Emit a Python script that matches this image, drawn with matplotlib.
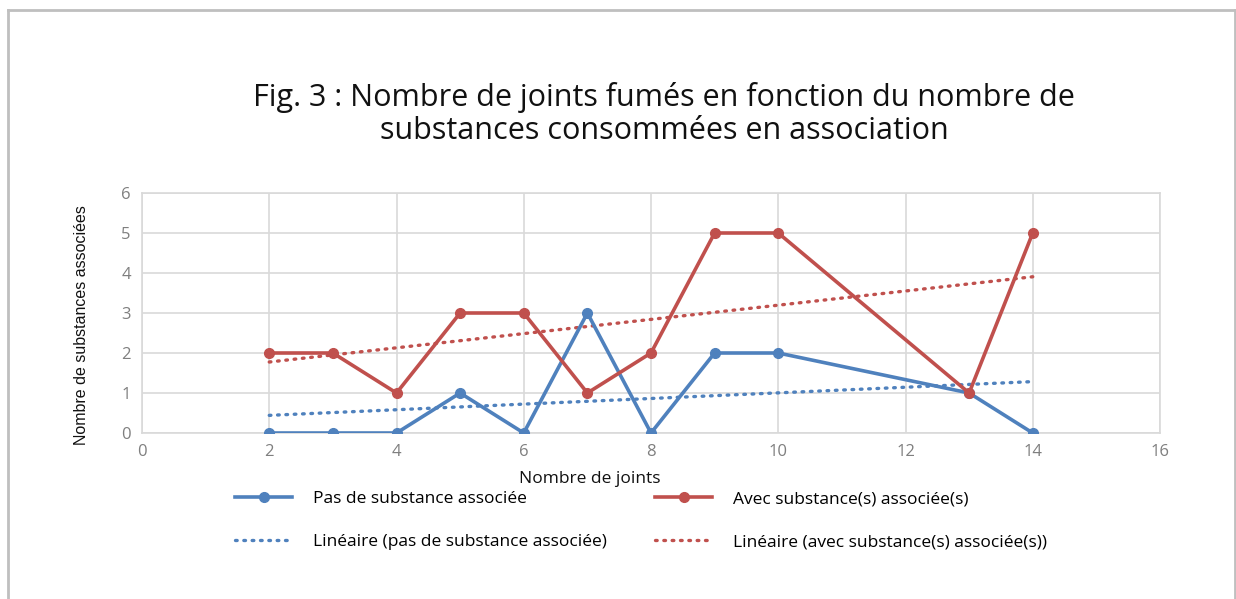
import matplotlib
matplotlib.use("Agg")
import matplotlib.pyplot as plt
import numpy as np
from matplotlib.lines import Line2D

x_joints = [2, 3, 4, 5, 6, 7, 8, 9, 10, 13, 14]
pas_substance = [0, 0, 0, 1, 0, 3, 0, 2, 2, 1, 0]
avec_substance = [2, 2, 1, 3, 3, 1, 2, 5, 5, 1, 5]
x_ticks = [0, 2, 4, 6, 8, 10, 12, 14, 16]
y_ticks = [0, 1, 2, 3, 4, 5, 6]

BLUE = "#4F81BD"
RED = "#C0504D"
W, H = 1236, 599
fig = plt.figure(figsize=(W / 100, H / 100), dpi=100)
ax = fig.add_axes([142 / W, 1 - 433 / H, (1160 - 142) / W, (433 - 193) / H])

font = ["Open Sans", "DejaVu Sans"]
DOT = (0, (0.5, 2.0))

xs = np.array(x_joints, dtype=float)
for ys, col in [(pas_substance, BLUE), (avec_substance, RED)]:
    ax.plot(xs, ys, color=col, lw=2.6, marker="o", ms=7, zorder=3, solid_joinstyle="round")
    k, b = np.polyfit(xs, ys, 1)
    ax.plot([xs.min(), xs.max()], [k * xs.min() + b, k * xs.max() + b], color=col,
            lw=2.4, linestyle=DOT, dash_capstyle="round", zorder=2)

ax.set_xlim(0, 16)
ax.set_ylim(0, 6)
ax.set_xticks(x_ticks)
ax.set_yticks(y_ticks)
ax.grid(True, color="#d9d9d9", lw=1.2)
ax.set_axisbelow(True)
for s in ax.spines.values():
    s.set_color("#d9d9d9")
    s.set_linewidth(1.2)
ax.tick_params(length=0, colors="#7f7f7f", labelsize=12, pad=8)
for lab in ax.get_xticklabels() + ax.get_yticklabels():
    lab.set_family(font)

fig.text(664 / W, 1 - 114 / H,
         "Fig. 3 : Nombre de joints fumés en fonction du nombre de\nsubstances consommées en association",
         ha="center", va="center", fontsize=22, family=font, linespacing=1.1, color="#111111")
fig.text(590 / W, 1 - 479 / H, "Nombre de joints", ha="center", va="center",
         fontsize=12.5, family=font, color="#111111")
fig.text(82 / W, 1 - 325 / H, "Nombre de substances associées", ha="center", va="center",
         rotation=90, fontsize=11.5, family=["Liberation Sans Narrow", "Liberation Sans", "DejaVu Sans"],
         color="#111111")

legend_cols = [
    (235, [Line2D([], [], color=BLUE, lw=2.6, marker="o", ms=7),
           Line2D([], [], color=BLUE, lw=2.4, linestyle=DOT, dash_capstyle="round")],
     ["Pas de substance associée", "Linéaire (pas de substance associée)"]),
    (655, [Line2D([], [], color=RED, lw=2.6, marker="o", ms=7),
           Line2D([], [], color=RED, lw=2.4, linestyle=DOT, dash_capstyle="round")],
     ["Avec substance(s) associée(s)", "Linéaire (avec substance(s) associée(s))"]),
]
for x0, hs, ls in legend_cols:
    fig.legend(hs, ls, ncol=1, loc="upper left", bbox_to_anchor=(x0 / W, 1 - 491 / H),
               frameon=False, handlelength=3.3, handletextpad=1.2, borderpad=0, borderaxespad=0,
               labelspacing=1.55, prop={"family": font, "size": 12.5})

# outer border
for (x0, y0, x1, y1) in [(8, 10, 8, 599), (8, 10, 1235, 10), (1235, 10, 1235, 599)]:
    fig.add_artist(Line2D([x0 / W, x1 / W], [1 - y0 / H, 1 - y1 / H], color="#bfbfbf", lw=2,
                          transform=fig.transFigure))

fig.savefig("out.png", dpi=100, facecolor="white")
